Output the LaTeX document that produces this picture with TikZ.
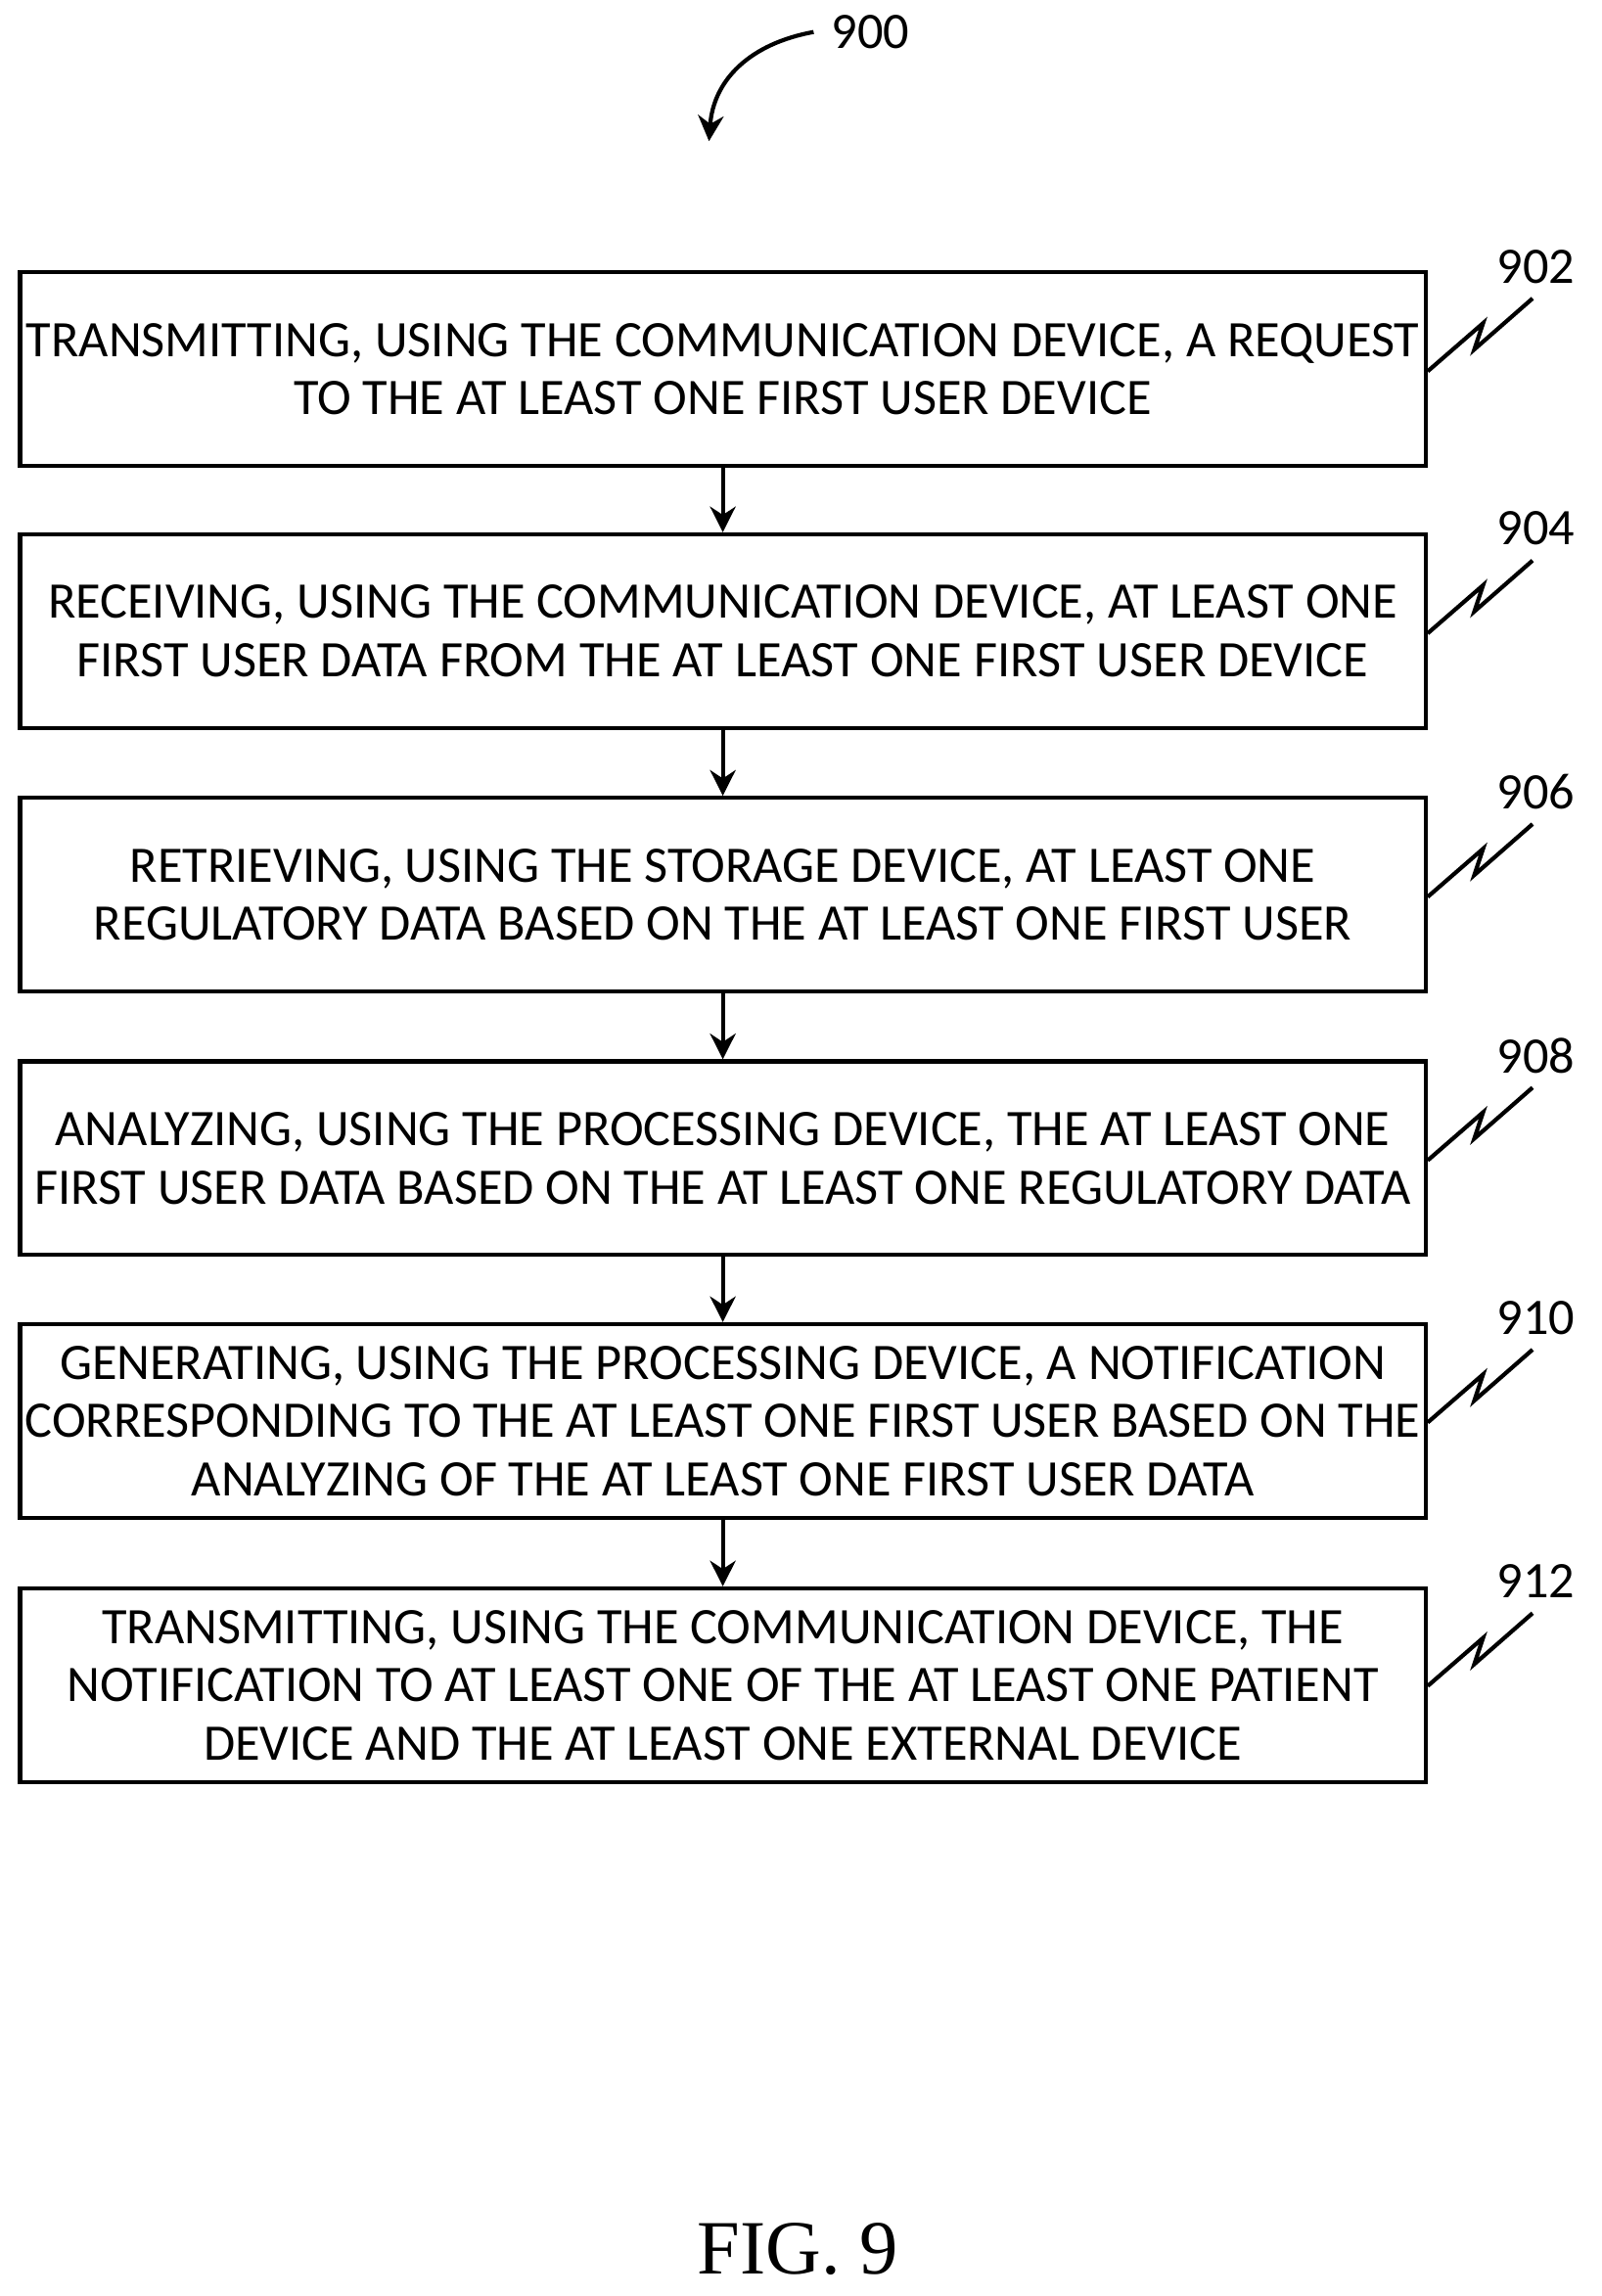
\documentclass[tikz,border=0pt]{standalone}
\usepackage{fontspec}
\setmainfont{Carlito}
\newfontfamily\figfont{Liberation Serif}
\usetikzlibrary{arrows.meta}
\begin{document}
\begin{tikzpicture}[x=0.01cm,y=-0.01cm,
  box/.style={draw,line width=0.8pt,minimum width=9.65cm,minimum height=1.33cm,align=center,font=\fontsize{10}{11.4}\selectfont,inner sep=0pt},
  arr/.style={-{Stealth[length=5pt,width=5pt]},line width=0.8pt},
  lab/.style={font=\fontsize{10}{12}\selectfont},
  sq/.style={line width=0.8pt}]
\useasboundingbox (0,0) rectangle (1100,1577);
\node[box] (b1) at (496.5,253.5) {TRANSMITTING, USING THE COMMUNICATION DEVICE, A REQUEST\\TO THE AT LEAST ONE FIRST USER DEVICE};
\node[box] (b2) at (496.5,433.5) {RECEIVING, USING THE COMMUNICATION DEVICE, AT LEAST ONE\\FIRST USER DATA FROM THE AT LEAST ONE FIRST USER DEVICE};
\node[box] (b3) at (496.5,614.5) {RETRIEVING, USING THE STORAGE DEVICE, AT LEAST ONE\\REGULATORY DATA BASED ON THE AT LEAST ONE FIRST USER};
\node[box] (b4) at (496.5,795.5) {ANALYZING, USING THE PROCESSING DEVICE, THE AT LEAST ONE\\FIRST USER DATA BASED ON THE AT LEAST ONE REGULATORY DATA};
\node[box] (b5) at (496.5,976) {GENERATING, USING THE PROCESSING DEVICE, A NOTIFICATION\\CORRESPONDING TO THE AT LEAST ONE FIRST USER BASED ON THE\\ANALYZING OF THE AT LEAST ONE FIRST USER DATA};
\node[box] (b6) at (496.5,1157.5) {TRANSMITTING, USING THE COMMUNICATION DEVICE, THE\\NOTIFICATION TO AT LEAST ONE OF THE AT LEAST ONE PATIENT\\DEVICE AND THE AT LEAST ONE EXTERNAL DEVICE};
\foreach \a/\b in {b1/b2,b2/b3,b3/b4,b4/b5,b5/b6} \draw[arr] (\a.south) -- (\b.north);
\foreach \n/\y/\t in {b1/255/902,b2/435/904,b3/616/906,b4/797/908,b5/977/910,b6/1158/912}{
  \draw[sq] (\n.east |- 0,\y) -- ++(38,-33) -- ++(-6,18) -- ++(40,-35);
  \node[lab] (l\t) at (1055,\y-72) {\t};
}
\node[lab] (l900) at (598,22) {900};
\draw[arr] (l900.west) .. controls (515,30) and (490,55) .. (487,97);
\node[font=\figfont\fontsize{15}{18}\selectfont] (fig) at (548,1545) {FIG. 9};
\end{tikzpicture}
\end{document}
